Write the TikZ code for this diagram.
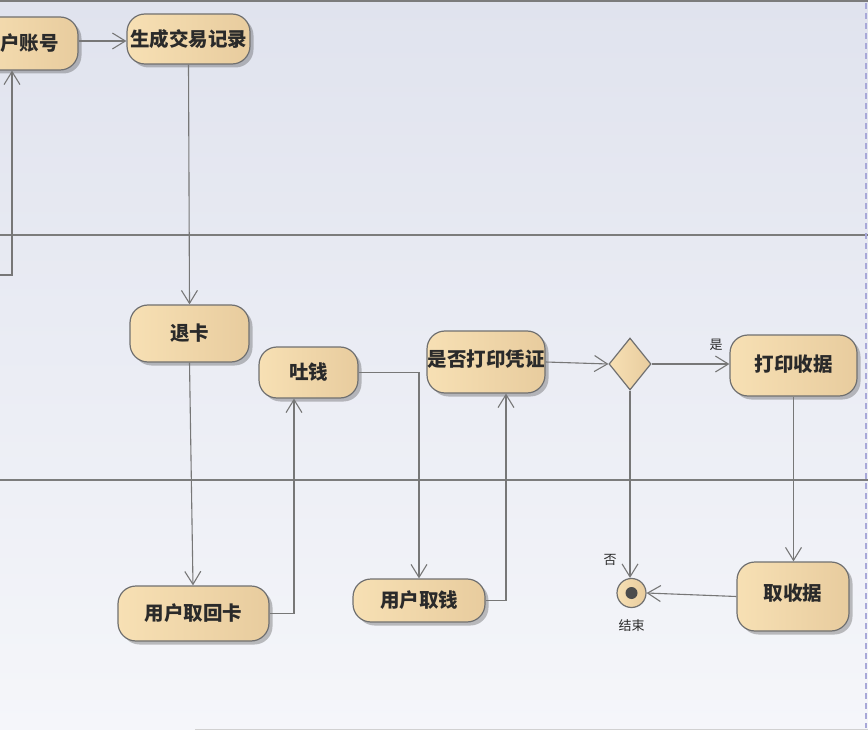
\documentclass[tikz,border=0pt]{standalone}
\usepackage{fontspec}
\setmainfont{Noto Sans CJK SC}
\usetikzlibrary{arrows.meta,shapes.geometric,shadows,calc}
\definecolor{bgT}{HTML}{E0E3EE}
\definecolor{bgB}{HTML}{F5F6FA}
\definecolor{nodeL}{HTML}{F7E0B4}
\definecolor{nodeR}{HTML}{E8CC9E}
\definecolor{edgec}{HTML}{707070}
\definecolor{linec}{HTML}{777777}
\definecolor{lanec}{HTML}{7C7C7C}
\definecolor{textc}{HTML}{2A2A2A}
\definecolor{dashc}{HTML}{A8A8D8}
\tikzset{
  act/.style={draw=edgec, line width=1.2pt, rounded corners=18pt,
    left color=nodeL, right color=nodeR,
    drop shadow={shadow xshift=3.5pt, shadow yshift=-3.5pt, opacity=0.35, fill=black!70},
    font=\bfseries\fontsize{19.5}{21}\selectfont, text=textc, inner sep=0pt},
  conn/.style={draw=linec, line width=1.1pt, -{Straight Barb[length=13pt,width=16pt,line width=1.1pt]}},
  small/.style={font=\fontsize{13}{14}\selectfont, text=textc, inner sep=0pt},
  lane/.style={draw=lanec, line width=2.2pt}
}
\begin{document}
\begin{tikzpicture}[x=1pt,y=-1pt]
\useasboundingbox (0,0) rectangle (868,730);
\shade[top color=bgT, bottom color=bgB] (0,0) rectangle (868,730);
\draw[lane] (0,1) -- (868,1);
\draw[lane] (0,235) -- (868,235);
\draw[lane] (0,480) -- (868,480);
\draw[draw=dashc, line width=1.2pt, dash pattern=on 6pt off 4pt] (866,3) -- (866,728);
\draw[draw=black!18, line width=1pt] (195,729.5) -- (868,729.5);

% nodes
\node[act, minimum width=116pt, minimum height=53pt] (ua) at (20,43.5) {用户账号};
\node[act, minimum width=123pt, minimum height=50pt] (gen) at (188.5,39) {生成交易记录};
\node[act, minimum width=119pt, minimum height=57pt] (tk) at (189.5,333.5) {退卡};
\node[act, minimum width=99pt, minimum height=51pt] (tq) at (308.5,372.5) {吐钱};
\node[act, minimum width=118pt, minimum height=62pt] (sf) at (486,362) {\raisebox{7pt}{是否打印凭证}};
\node[diamond, draw=edgec, line width=1.2pt, left color=nodeL, right color=nodeR,
      minimum width=42pt, minimum height=52pt, inner sep=0pt] (dia) at (630,364) {};
\node[act, minimum width=127pt, minimum height=61pt] (dy) at (793.5,365.5) {\raisebox{5pt}{打印收据}};
\node[act, minimum width=112pt, minimum height=69pt] (sj) at (793,596.5) {\raisebox{8pt}{取收据}};
\node[circle, draw=edgec, line width=1.2pt, left color=nodeL, right color=nodeR,
      minimum size=29pt, inner sep=0pt] (end) at (631.5,593) {};
\node[circle, fill=black!70, minimum size=12pt, inner sep=0pt] (endin) at (end.center) {};
\node[act, minimum width=151pt, minimum height=55pt] (hk) at (193.5,613.5) {\raisebox{3pt}{用户取回卡}};
\node[act, minimum width=132pt, minimum height=43pt] (qq) at (419,600.5) {\raisebox{3pt}{用户取钱}};

\node[small] (endlbl) at (631.5,626) {结束};
\node[small] (yes) at (716,345) {是};
\node[small] (no) at (610,560) {否};

% connectors
\coordinate (c1) at (0,275);
\draw[conn] (c1) -| ([xshift=-8pt]ua.south);
\draw[conn] (ua.east |- 0,41) -- (gen.west |- 0,41);
\draw[conn] (gen.south) -- (tk.north);
\draw[conn] (tk.south) -- ([xshift=-0.5pt]hk.north);
\draw[conn] (hk.east) -| ([xshift=-14.5pt]tq.south);
\draw[conn] (tq.east) -| (qq.north);
\draw[conn] (qq.east) -| ([xshift=20pt]sf.south);
\draw[conn] (sf.east) -- (dia.west);
\draw[conn] (dia.east) -- (dia.east -| dy.west);
\draw[conn] (dia.south) -- (dia.south |- end.north);
\draw[conn] (dy.south) -- (dy.south |- sj.north);
\draw[conn] (sj.west) -- (end.east);
\end{tikzpicture}
\end{document}
